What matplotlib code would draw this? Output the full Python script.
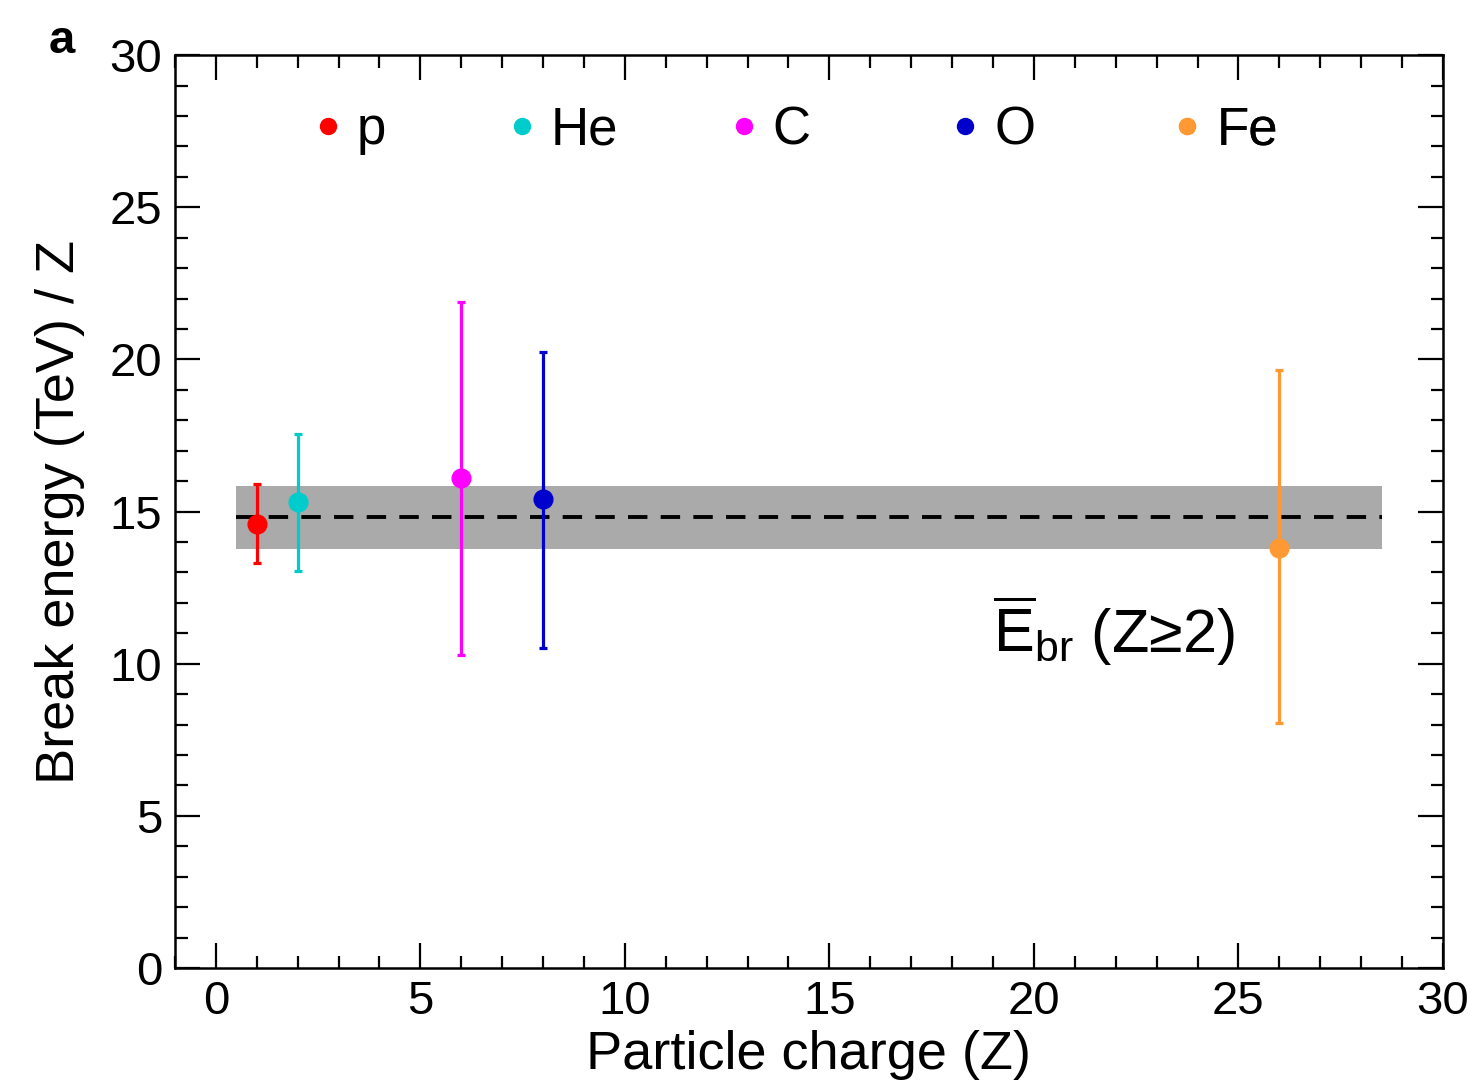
import numpy as np
import matplotlib
matplotlib.use('Agg')
import matplotlib.pyplot as plt
from matplotlib.ticker import MultipleLocator

plt.rcParams['font.family'] = ['Liberation Sans', 'DejaVu Sans']
plt.rcParams['mathtext.fontset'] = 'custom'
plt.rcParams['mathtext.rm'] = 'Liberation Sans'
plt.rcParams['mathtext.it'] = 'Liberation Sans:italic'

# data
species = ['p', 'He', 'C', 'O', 'Fe']
charge = [1, 2, 6, 8, 26]
ebreak = [14.6, 15.3, 16.1, 15.4, 13.8]
err_up = [1.3, 2.25, 5.8, 4.85, 5.85]
err_lo = [1.3, 2.25, 5.8, 4.9, 5.75]
colors = ['#ff0000', '#00cccc', '#ff00ff', '#0000cc', '#ff9933']

band_x = [0.5, 28.5]
band_lo, band_hi = 13.77, 15.84
mean_br = 14.82

# where each legend entry sits (axes fraction)
leg_pos = [0.110, 0.263, 0.438, 0.613, 0.788]

fig = plt.figure(figsize=(14.7, 10.82), dpi=100)
ax = fig.add_axes([0.119, 0.1054, 0.8626, 0.8436])

ax.fill_between(band_x, band_lo, band_hi, color='#aaaaaa', lw=0, zorder=1)
ax.plot(band_x, [mean_br, mean_br], color='black', ls=(0, (5, 3.4)), lw=2.8, zorder=2)

handles = []
for i in range(len(species)):
    ax.errorbar(charge[i], ebreak[i], yerr=[[err_lo[i]], [err_up[i]]],
                fmt='o', color=colors[i], ms=13.5, elinewidth=2.3,
                capsize=3, capthick=2.3, zorder=3)
    h, = ax.plot([], [], 'o', color=colors[i], ms=11.5)
    handles.append(h)

for i in range(len(species)):
    leg = ax.legend([handles[i]], [species[i]], loc='center left',
                    bbox_to_anchor=(leg_pos[i], 0.918), frameon=False,
                    fontsize=38, handlelength=0.5, handletextpad=0.3,
                    borderpad=0, borderaxespad=0)
    ax.add_artist(leg)

ax.text(19.0, 10.35, r'$\overline{\mathrm{E}}_{\mathrm{br}}$ (Z≥2)', fontsize=44,
        ha='left', va='baseline')

ax.set_xlim(-1, 30)
ax.set_ylim(0, 30)
ax.xaxis.set_major_locator(MultipleLocator(5))
ax.xaxis.set_minor_locator(MultipleLocator(1))
ax.yaxis.set_major_locator(MultipleLocator(5))
ax.yaxis.set_minor_locator(MultipleLocator(1))
ax.tick_params(which='both', direction='in', top=True, right=True,
               width=1.6, labelsize=34)
ax.tick_params(which='major', length=18, pad=9)
ax.tick_params(which='minor', length=9)
for s in ax.spines.values():
    s.set_linewidth(1.8)

ax.set_xlabel('Particle charge (Z)', fontsize=39, labelpad=4)
ax.set_ylabel('Break energy (TeV) / Z', fontsize=39, labelpad=18)

fig.text(0.042, 0.962, 'a', fontsize=34, fontweight='bold', ha='center', va='center')

fig.savefig('out.png', dpi=100)
